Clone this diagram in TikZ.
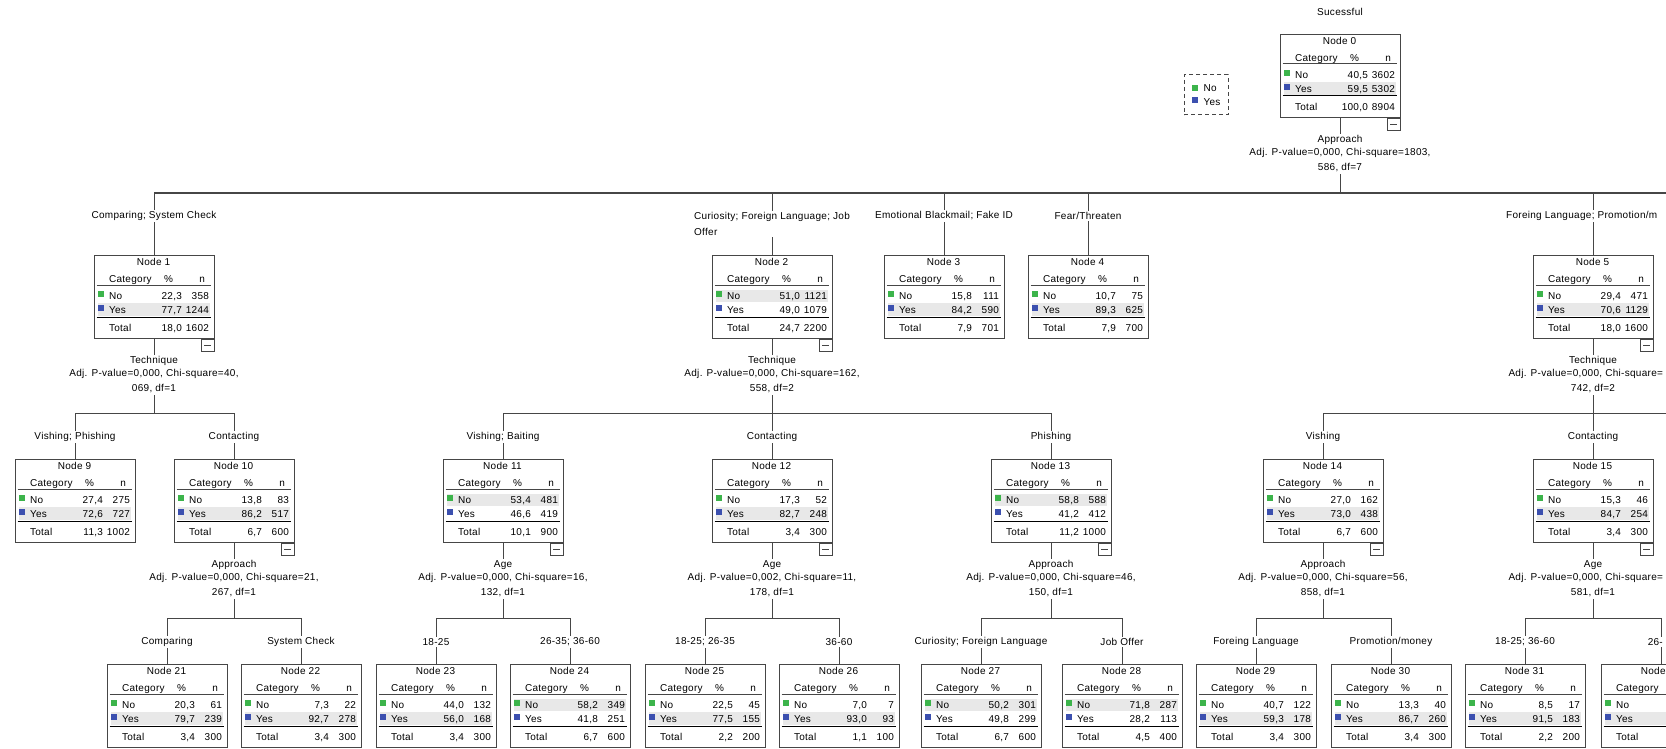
\documentclass[tikz,border=0pt]{standalone}
\usepackage{fontspec}
\setmainfont{Liberation Sans}[LetterSpace=3]

\definecolor{catno}{RGB}{60,180,75}
\definecolor{catyes}{RGB}{60,80,175}
\definecolor{band}{RGB}{232,232,232}
\definecolor{rule}{RGB}{70,70,70}
\tikzstyle{statbox}=[draw=rule, rectangle, anchor=north, minimum width=120pt, minimum height=83pt, inner sep=0pt]
\tikzstyle{cell}=[inner sep=0pt, anchor=base]
\tikzstyle{branch}=[fill=white, inner sep=1.5pt]
\tikzstyle{split}=[fill=white, inner sep=1.5pt, align=center]
\tikzstyle{minusbox}=[draw=rule, fill=white, anchor=north east, minimum width=13pt, minimum height=12pt, inner sep=0pt,
  path picture={\draw[rule] ([xshift=3pt]path picture bounding box.west) -- ([xshift=-3pt]path picture bounding box.east);}]

% #1 name, #2 top centre, #3 number, #4-#9 No/Yes/Total (% and n)
\newcommand{\nodestats}[9]{%
  \node[statbox] (#1) at (#2) {};
  \begin{scope}[shift={(#1.north west)}]
    \ifnum#5>#7\relax
      \fill[band] (4,35) rectangle (116,47);
    \else
      \fill[band] (4,48) rectangle (116,61);
    \fi
    \fill[catno] (4,36) rectangle (10,42);
    \fill[catyes] (4,50) rectangle (10,56);
    \draw[rule] (3,30) -- (117,30);
    \draw[black] (3,62) -- (117,62);
    \node[cell] (#1-title) at (60,10.5) {Node #3};
    \node[cell, anchor=base west] (#1-hcat) at (15,27.5) {Category};
    \node[cell] (#1-hpct) at (75,27.5) {\%};
    \node[cell, anchor=base east] (#1-hn) at (112,27.5) {n};
    \node[cell, anchor=base west] (#1-no) at (15,44.5) {No};
    \node[cell, anchor=base east] (#1-nopct) at (89,44.5) {#4};
    \node[cell, anchor=base east] (#1-non) at (116,44.5) {#5};
    \node[cell, anchor=base west] (#1-yes) at (15,58.5) {Yes};
    \node[cell, anchor=base east] (#1-yespct) at (89,58.5) {#6};
    \node[cell, anchor=base east] (#1-yesn) at (116,58.5) {#7};
    \node[cell, anchor=base west] (#1-tot) at (15,76.5) {Total};
    \node[cell, anchor=base east] (#1-totpct) at (89,76.5) {#8};
    \node[cell, anchor=base east] (#1-totn) at (116,76.5) {#9};
  \end{scope}
}

\begin{document}
\begin{tikzpicture}[x=1pt, y=-1pt, line width=1pt, font=\fontsize{10}{13}\selectfont]
  \useasboundingbox (0,0) rectangle (1666,749);
  \clip (0,0) rectangle (1666,749);

  \node (title) at (1340,12) {Sucessful};

  \node[draw=rule, dash pattern=on 4pt off 3pt, minimum width=44pt, minimum height=40pt] (legend) at (1206,95) {};
  \fill[catno] (1192,85) rectangle (1198,91);
  \fill[catyes] (1192,97) rectangle (1198,103);
  \node[cell, anchor=west] (legno) at (1203,88) {No};
  \node[cell, anchor=west] (legyes) at (1203,102) {Yes};

  \nodestats{n0}{1340,34}{0}{40,5}{3602}{59,5}{5302}{100,0}{8904}

  \nodestats{n1}{154,255}{1}{22,3}{358}{77,7}{1244}{18,0}{1602}
  \nodestats{n2}{772,255}{2}{51,0}{1121}{49,0}{1079}{24,7}{2200}
  \nodestats{n3}{944,255}{3}{15,8}{111}{84,2}{590}{7,9}{701}
  \nodestats{n4}{1088,255}{4}{10,7}{75}{89,3}{625}{7,9}{700}
  \nodestats{n5}{1593,255}{5}{29,4}{471}{70,6}{1129}{18,0}{1600}

  \nodestats{n9}{75,459}{9}{27,4}{275}{72,6}{727}{11,3}{1002}
  \nodestats{n10}{234,459}{10}{13,8}{83}{86,2}{517}{6,7}{600}
  \nodestats{n11}{503,459}{11}{53,4}{481}{46,6}{419}{10,1}{900}
  \nodestats{n12}{772,459}{12}{17,3}{52}{82,7}{248}{3,4}{300}
  \nodestats{n13}{1051,459}{13}{58,8}{588}{41,2}{412}{11,2}{1000}
  \nodestats{n14}{1323,459}{14}{27,0}{162}{73,0}{438}{6,7}{600}
  \nodestats{n15}{1593,459}{15}{15,3}{46}{84,7}{254}{3,4}{300}

  \nodestats{n21}{167,664}{21}{20,3}{61}{79,7}{239}{3,4}{300}
  \nodestats{n22}{301,664}{22}{7,3}{22}{92,7}{278}{3,4}{300}
  \nodestats{n23}{436,664}{23}{44,0}{132}{56,0}{168}{3,4}{300}
  \nodestats{n24}{570,664}{24}{58,2}{349}{41,8}{251}{6,7}{600}
  \nodestats{n25}{705,664}{25}{22,5}{45}{77,5}{155}{2,2}{200}
  \nodestats{n26}{839,664}{26}{7,0}{7}{93,0}{93}{1,1}{100}
  \nodestats{n27}{981,664}{27}{50,2}{301}{49,8}{299}{6,7}{600}
  \nodestats{n28}{1122,664}{28}{71,8}{287}{28,2}{113}{4,5}{400}
  \nodestats{n29}{1256,664}{29}{40,7}{122}{59,3}{178}{3,4}{300}
  \nodestats{n30}{1391,664}{30}{13,3}{40}{86,7}{260}{3,4}{300}
  \nodestats{n31}{1525,664}{31}{8,5}{17}{91,5}{183}{2,2}{200}
  \nodestats{n32}{1661,664}{32}{29,0}{29}{71,0}{71}{1,1}{100}

  \node[minusbox] (m0) at (n0.south east) {};
  \node[minusbox] (m1) at (n1.south east) {};
  \node[minusbox] (m2) at (n2.south east) {};
  \node[minusbox] (m5) at (n5.south east) {};
  \node[minusbox] (m10) at (n10.south east) {};
  \node[minusbox] (m11) at (n11.south east) {};
  \node[minusbox] (m12) at (n12.south east) {};
  \node[minusbox] (m13) at (n13.south east) {};
  \node[minusbox] (m14) at (n14.south east) {};
  \node[minusbox] (m15) at (n15.south east) {};

  \begin{scope}[rule]
  \coordinate (b0) at (1340,193);
  \coordinate (e0) at (1670,193);
  \draw (n0.south) -- (b0);
  \draw (b0) -| (n1.north);
  \draw (b0) -| (n2.north);
  \draw (b0) -| (n3.north);
  \draw (b0) -| (n4.north);
  \draw (b0) -| (n5.north);
  \draw (b0) -- (e0);

  \coordinate (b1) at (154,413);
  \coordinate (b2) at (772,413);
  \coordinate (b5) at (1593,413);
  \coordinate (e5) at (1670,413);
  \draw (n1.south) -- (b1);
  \draw (b1) -| (n9.north);
  \draw (b1) -| (n10.north);
  \draw (n2.south) -- (b2);
  \draw (b2) -| (n11.north);
  \draw (b2) -| (n12.north);
  \draw (b2) -| (n13.north);
  \draw (n5.south) -- (b5);
  \draw (b5) -| (n14.north);
  \draw (b5) -| (n15.north);
  \draw (b5) -- (e5);

  \coordinate (b10) at (234,618);
  \coordinate (b11) at (503,618);
  \coordinate (b12) at (772,618);
  \coordinate (b13) at (1051,618);
  \coordinate (b14) at (1323,618);
  \coordinate (b15) at (1593,618);
  \draw (n10.south) -- (b10);
  \draw (b10) -| (n21.north);
  \draw (b10) -| (n22.north);
  \draw (n11.south) -- (b11);
  \draw (b11) -| (n23.north);
  \draw (b11) -| (n24.north);
  \draw (n12.south) -- (b12);
  \draw (b12) -| (n25.north);
  \draw (b12) -| (n26.north);
  \draw (n13.south) -- (b13);
  \draw (b13) -| (n27.north);
  \draw (b13) -| (n28.north);
  \draw (n14.south) -- (b14);
  \draw (b14) -| (n29.north);
  \draw (b14) -| (n30.north);
  \draw (n15.south) -- (b15);
  \draw (b15) -| (n31.north);
  \draw (b15) -| (n32.north);
  \end{scope}

  \node[split] (s0) at (1340,154) {Approach\\Adj. P-value=0,000, Chi-square=1803,\\[2pt]586, df=7};
  \node[split] (s1) at (154,375) {Technique\\Adj. P-value=0,000, Chi-square=40,\\[2pt]069, df=1};
  \node[split] (s2) at (772,375) {Technique\\Adj. P-value=0,000, Chi-square=162,\\[2pt]558, df=2};
  \node[split] (s5) at (1593,375) {Technique\\Adj. P-value=0,000, Chi-square=\phantom{00,}\\[2pt]742, df=2};
  \node[split] (s10) at (234,579) {Approach\\Adj. P-value=0,000, Chi-square=21,\\[2pt]267, df=1};
  \node[split] (s11) at (503,579) {Age\\Adj. P-value=0,000, Chi-square=16,\\[2pt]132, df=1};
  \node[split] (s12) at (772,579) {Age\\Adj. P-value=0,002, Chi-square=11,\\[2pt]178, df=1};
  \node[split] (s13) at (1051,579) {Approach\\Adj. P-value=0,000, Chi-square=46,\\[2pt]150, df=1};
  \node[split] (s14) at (1323,579) {Approach\\Adj. P-value=0,000, Chi-square=56,\\[2pt]858, df=1};
  \node[split] (s15) at (1593,579) {Age\\Adj. P-value=0,000, Chi-square=\phantom{00,}\\[2pt]581, df=1};

  \node[branch] (l1) at (154,216) {Comparing; System Check};
  \node[branch, align=left] (l2) at (772,224) {Curiosity; Foreign Language; Job\\[3pt]Offer};
  \node[branch] (l3) at (944,216) {Emotional Blackmail; Fake ID};
  \node[branch] (l4) at (1088,216) {Fear/Threaten};
  \node[branch] (l5) at (1593,216) {Foreing Language; Promotion/m\phantom{oney}};

  \node[branch] (l9) at (75,437) {Vishing; Phishing};
  \node[branch] (l10) at (234,437) {Contacting};
  \node[branch] (l11) at (503,437) {Vishing; Baiting};
  \node[branch] (l12) at (772,437) {Contacting};
  \node[branch] (l13) at (1051,437) {Phishing};
  \node[branch] (l14) at (1323,437) {Vishing};
  \node[branch] (l15) at (1593,437) {Contacting};

  \node[branch] (l21) at (167,642) {Comparing};
  \node[branch] (l22) at (301,642) {System Check};
  \node[branch] (l23) at (436,642) {18-25};
  \node[branch] (l24) at (570,642) {26-35; 36-60};
  \node[branch] (l25) at (705,642) {18-25; 26-35};
  \node[branch] (l26) at (839,642) {36-60};
  \node[branch] (l27) at (981,642) {Curiosity; Foreign Language};
  \node[branch] (l28) at (1122,642) {Job Offer};
  \node[branch] (l29) at (1256,642) {Foreing Language};
  \node[branch] (l30) at (1391,642) {Promotion/money};
  \node[branch] (l31) at (1525,642) {18-25; 36-60};
  \node[branch] (l32) at (1661,642) {26-\phantom{35}};
\end{tikzpicture}
\end{document}
